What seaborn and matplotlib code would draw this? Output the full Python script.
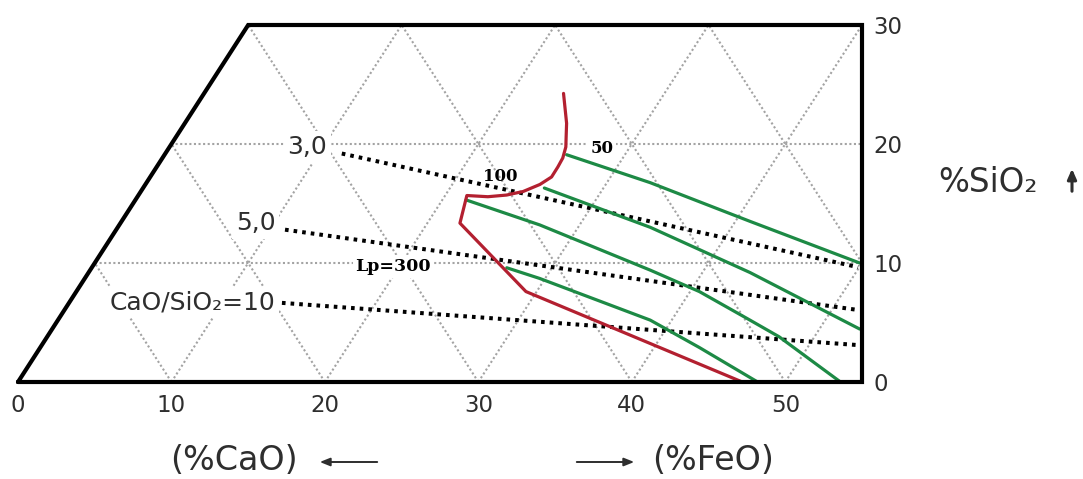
import matplotlib
matplotlib.use("Agg")
import matplotlib.pyplot as plt
import seaborn as sns

# ---- axis scales -------------------------------------------------------
cao_feo_ticks = [0, 10, 20, 30, 40, 50]
sio2_ticks = [0, 10, 20, 30]
x_max = 55
y_max = 30

# ---- CaO/SiO2 iso-ratio lines (black dotted) ---------------------------
ratio_labels = ["3,0", "5,0", "CaO/SiO\u2082=10"]
ratio_30_x = [21.1, 54.75]
ratio_30_y = [19.2, 9.65]
ratio_50_x = [17.4, 54.75]
ratio_50_y = [12.8, 6.05]
ratio_10_x = [17.2, 54.75]
ratio_10_y = [6.65, 3.1]

# ---- Lp boundary (red) -------------------------------------------------
boundary_x = [35.55, 35.75, 35.72, 35.70, 35.50, 35.18, 34.77, 34.01, 32.92,
              31.84, 30.62, 29.25, 28.80, 33.10, 47.20]
boundary_y = [24.25, 21.74, 20.60, 19.75, 18.82, 18.07, 17.23, 16.60, 16.01,
              15.71, 15.57, 15.67, 13.35, 7.60, 0.00]

# ---- iso-Lp lines (green) ----------------------------------------------
lp_labels = ["50", "100", "Lp=300"]
lp50_x = [35.75, 41.2, 47.7, 54.85]
lp50_y = [19.1, 16.75, 13.5, 10.0]
lp100_x = [34.3, 41.2, 47.7, 54.85]
lp100_y = [16.3, 13.0, 9.2, 4.45]
lp200_x = [29.2, 34.0, 41.2, 44.4, 47.7, 49.6, 53.6]
lp200_y = [15.3, 13.2, 9.4, 7.6, 5.2, 3.8, 0.0]
lp300_x = [31.85, 34.0, 41.2, 44.4, 48.2]
lp300_y = [9.6, 8.7, 5.2, 2.9, 0.0]

RED = "#b32030"
GREEN = "#1d8a45"
GRID = "#a3a3a3"
TXT = "#2e2e2e"

sns.set_theme(style="white")
plt.rcParams["font.family"] = ["DejaVu Sans"]

fig = plt.figure(figsize=(10.83, 4.79), dpi=100)
ax = fig.add_axes([18 / 1083, 97 / 479, 844 / 1083, 357 / 479])
ax.set_xlim(0, x_max)
ax.set_ylim(0, y_max)
for s in ax.spines.values():
    s.set_visible(False)
ax.grid(False)

# ---- triangular grid clipped to the trapezoid --------------------------
grid_kw = dict(color=GRID, lw=1.5, linestyle=(0, (1, 1.2)), zorder=1)
for yv in sio2_ticks[1:-1]:
    ax.plot([yv / 2, x_max], [yv, yv], **grid_kw)
for c in range(10, 80, 10):
    # rising lines x = c + y/2
    y_top = min(y_max, 2 * (x_max - c))
    if y_top > 0:
        ax.plot([c, c + y_top / 2], [0, y_top], **grid_kw)
    # falling lines x = c - y/2
    y_lo = max(0, 2 * (c - x_max))
    y_hi = min(y_max, c)
    if y_hi > y_lo:
        ax.plot([c - y_lo / 2, c - y_hi / 2], [y_lo, y_hi], **grid_kw)

# ---- frame -------------------------------------------------------------
ax.plot([0, y_max / 2, x_max, x_max, 0], [0, y_max, y_max, 0, 0],
        color="black", lw=3, solid_joinstyle="miter", zorder=6, clip_on=False)

# ---- ratio lines -------------------------------------------------------
dot_kw = dict(color="black", lw=2.9, linestyle=(0, (0.9, 1.25)), zorder=3,
              sort=False, estimator=None, legend=False)
for xs, ys in [(ratio_30_x, ratio_30_y), (ratio_50_x, ratio_50_y), (ratio_10_x, ratio_10_y)]:
    sns.lineplot(x=xs, y=ys, ax=ax, **dot_kw)

# ---- Lp lines ----------------------------------------------------------
green_kw = dict(color=GREEN, lw=2.3, zorder=4, sort=False, estimator=None, legend=False)
for xs, ys in [(lp50_x, lp50_y), (lp100_x, lp100_y), (lp200_x, lp200_y), (lp300_x, lp300_y)]:
    sns.lineplot(x=xs, y=ys, ax=ax, **green_kw)
sns.lineplot(x=boundary_x, y=boundary_y, ax=ax, color=RED, lw=2.3, zorder=5,
             sort=False, estimator=None, legend=False)

# ---- labels inside the diagram -----------------------------------------
box = dict(boxstyle="square,pad=0.15", fc="white", ec="none")
ax.text(18.85, 19.75, ratio_labels[0], fontsize=18, color=TXT, ha="center", va="center", bbox=box, zorder=2)
ax.text(15.5, 13.35, ratio_labels[1], fontsize=18, color=TXT, ha="center", va="center", bbox=box, zorder=2)
ax.text(16.75, 6.7, ratio_labels[2], fontsize=18, color=TXT, ha="right", va="center", bbox=box, zorder=2)

serif = ["DejaVu Serif"]
ax.text(38.05, 19.65, lp_labels[0], fontsize=12, family=serif, weight="bold", color="black",
        ha="center", va="center", bbox=box, zorder=2)
ax.text(31.4, 17.25, lp_labels[1], fontsize=12, family=serif, weight="bold", color="black",
        ha="center", va="center", zorder=2)
ax.text(24.45, 9.7, lp_labels[2], fontsize=12.5, family=serif, weight="bold", color="black",
        ha="center", va="center", bbox=box, zorder=2)

# ---- ticks -------------------------------------------------------------
ax.set_xticks(cao_feo_ticks)
ax.set_xticklabels([str(t) for t in cao_feo_ticks])
ax.yaxis.tick_right()
ax.set_yticks(sio2_ticks)
ax.set_yticklabels([str(t) for t in sio2_ticks])
ax.tick_params(axis="x", length=0, pad=9, labelsize=16.5, labelcolor=TXT)
ax.tick_params(axis="y", length=0, pad=8, labelsize=16.5, labelcolor=TXT)

# ---- axis titles -------------------------------------------------------
fig.text(234 / 1083, 1 - 461 / 479, "(%CaO)", fontsize=24, color=TXT, ha="center", va="center")
fig.text(713 / 1083, 1 - 461 / 479, "(%FeO)", fontsize=24, color=TXT, ha="center", va="center")
fig.text(938 / 1083, 1 - 183 / 479, "%SiO\u2082", fontsize=23.5, color=TXT, ha="left", va="center")

arrow = dict(arrowstyle="-|>,head_length=0.5,head_width=0.2", color=TXT, lw=1.4)
ax.annotate("", xy=(317, 17), xytext=(380, 17), xycoords="figure pixels",
            textcoords="figure pixels", arrowprops=arrow, annotation_clip=False)
ax.annotate("", xy=(637, 17), xytext=(574, 17), xycoords="figure pixels",
            textcoords="figure pixels", arrowprops=arrow, annotation_clip=False)
ax.annotate("", xy=(1072, 479 - 166), xytext=(1072, 479 - 194), xycoords="figure pixels",
            textcoords="figure pixels",
            arrowprops=dict(arrowstyle="-|>,head_length=0.5,head_width=0.22", color=TXT, lw=2.2),
            annotation_clip=False)

fig.savefig("out.png", dpi=100, facecolor="white")
